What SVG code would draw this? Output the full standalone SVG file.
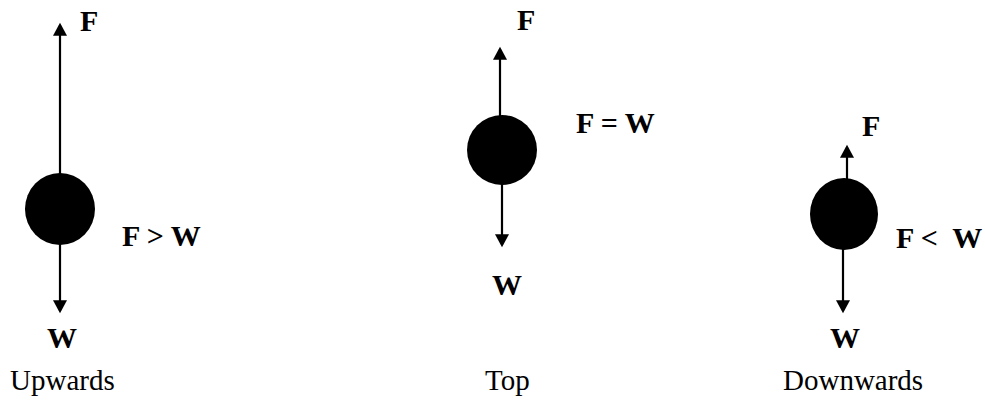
<svg xmlns="http://www.w3.org/2000/svg" width="985" height="409" viewBox="0 0 985 409">
<style>
.ball{fill:#000}
.force{stroke:#000;stroke-width:2.2;fill:none;marker-end:url(#head)}
.lbl{font-family:"Liberation Serif","Times New Roman",serif;font-weight:bold;font-size:30px;fill:#000;white-space:pre}
.cap{font-family:"Liberation Serif","Times New Roman",serif;font-size:29px;fill:#000}
</style>
<defs>
<marker id="head" markerUnits="userSpaceOnUse" markerWidth="14" markerHeight="14" viewBox="0 0 12 13" refX="10" refY="6.5" orient="auto">
<path d="M0,0 L12,6.5 L0,13 z" fill="#000"/>
</marker>
</defs>
<g id="connectors">
<line class="force" x1="60" y1="174" x2="60" y2="25"/>
<line class="force" x1="60" y1="244" x2="60" y2="311"/>
<line class="force" x1="500" y1="116" x2="500" y2="49"/>
<line class="force" x1="502" y1="183" x2="502" y2="245"/>
<line class="force" x1="847" y1="179" x2="847" y2="147"/>
<line class="force" x1="843" y1="249" x2="843" y2="311"/>
</g>
<g id="upwards">
<ellipse class="ball" cx="60" cy="209" rx="35" ry="36"/>
<text class="lbl" x="80" y="31">F</text>
<text class="lbl" x="122" y="246" xml:space="preserve">F &gt; W</text>
<text class="lbl" x="47" y="348">W</text>
<text class="cap" x="10" y="390">Upwards</text>
</g>
<g id="top">
<ellipse class="ball" cx="502" cy="150" rx="35" ry="35"/>
<text class="lbl" x="517" y="30">F</text>
<text class="lbl" x="576" y="133" xml:space="preserve">F = W</text>
<text class="lbl" x="492" y="295">W</text>
<text class="cap" x="485" y="390">Top</text>
</g>
<g id="downwards">
<ellipse class="ball" cx="844" cy="214" rx="34" ry="36"/>
<text class="lbl" x="862" y="136">F</text>
<text class="lbl" x="896" y="248" xml:space="preserve">F &lt;  W</text>
<text class="lbl" x="830" y="348">W</text>
<text class="cap" x="783" y="390">Downwards</text>
</g>
</svg>
